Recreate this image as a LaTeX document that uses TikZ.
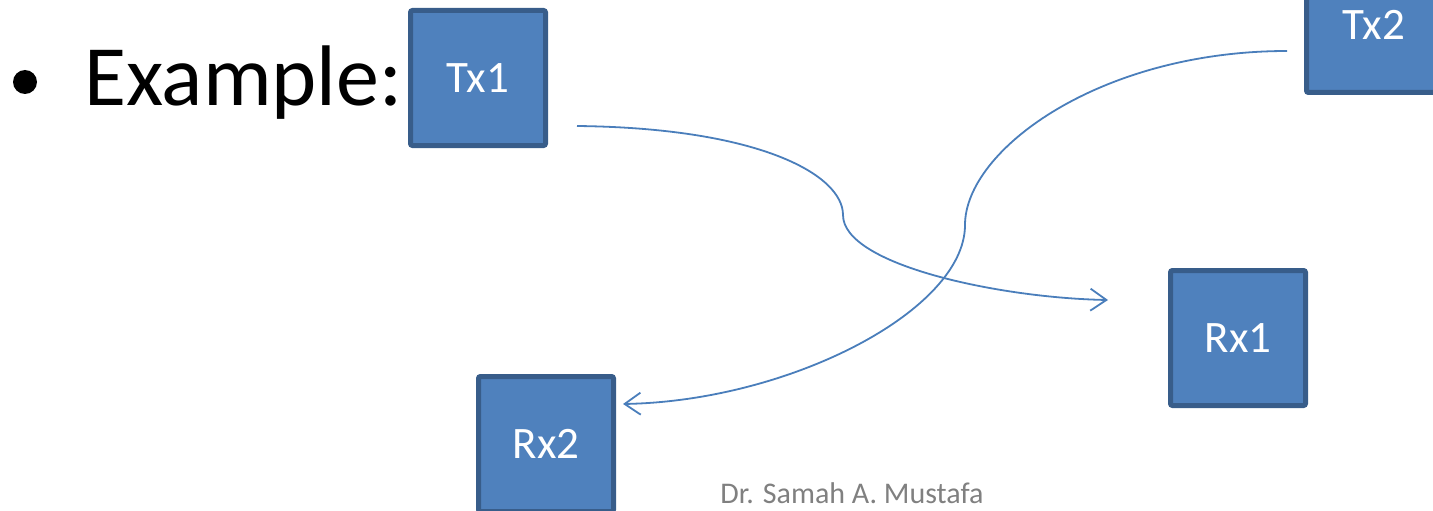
\documentclass[tikz,border=0pt]{standalone}
\usepackage{fontspec}
\setmainfont{Carlito}
\usetikzlibrary{arrows.meta}
\definecolor{boxfill}{HTML}{4F81BD}
\definecolor{boxline}{HTML}{385D8A}
\definecolor{linkblue}{HTML}{4A7EBB}
\begin{document}
\begin{tikzpicture}[x=1pt,y=-1pt,
  station/.style={draw=boxline,fill=boxfill,line width=5pt,rounded corners=2pt,
    minimum size=135pt,inner sep=0pt,text=white,font=\fontsize{45}{54}\selectfont},
  link/.style={linkblue,line width=1.8pt,-{Straight Barb[length=16pt,width=22pt,line width=1.8pt]}}]
  \useasboundingbox (0,0) rectangle (1433,511);
  \clip (0,0) rectangle (1433,511);
  % heading
  \fill (25,82) circle (12);
  \node [anchor=base west,inner sep=0pt,font=\fontsize{86}{100}\selectfont] (title) at (84,105) {Example:};
  % stations
  \node [station] (tx1) at (478,78) {Tx1};
  \node [station] (tx2) at (1374,25) {Tx2};
  \node [station] (rx1) at (1238,338) {Rx1};
  \node [station] (rx2) at (546,444) {Rx2};
  % link ends
  \coordinate (tx1out) at (577,126);
  \coordinate (rx1in) at (1108,300);
  \coordinate (tx2out) at (1287,51);
  \coordinate (rx2in) at (623,404);
  \draw [link] (tx1out) .. controls (760,128) and (843,175) .. (843,215)
    .. controls (843,265) and (1000,298) .. (rx1in);
  \draw [link] (tx2out) .. controls (1100,51) and (965,150) .. (965,225)
    .. controls (965,310) and (790,401) .. (rx2in);
  % footer
  \node [anchor=base,inner sep=0pt,text=black!50,font=\fontsize{30}{36}\selectfont] (author) at (852,503) {Dr. Samah A. Mustafa};
\end{tikzpicture}
\end{document}
